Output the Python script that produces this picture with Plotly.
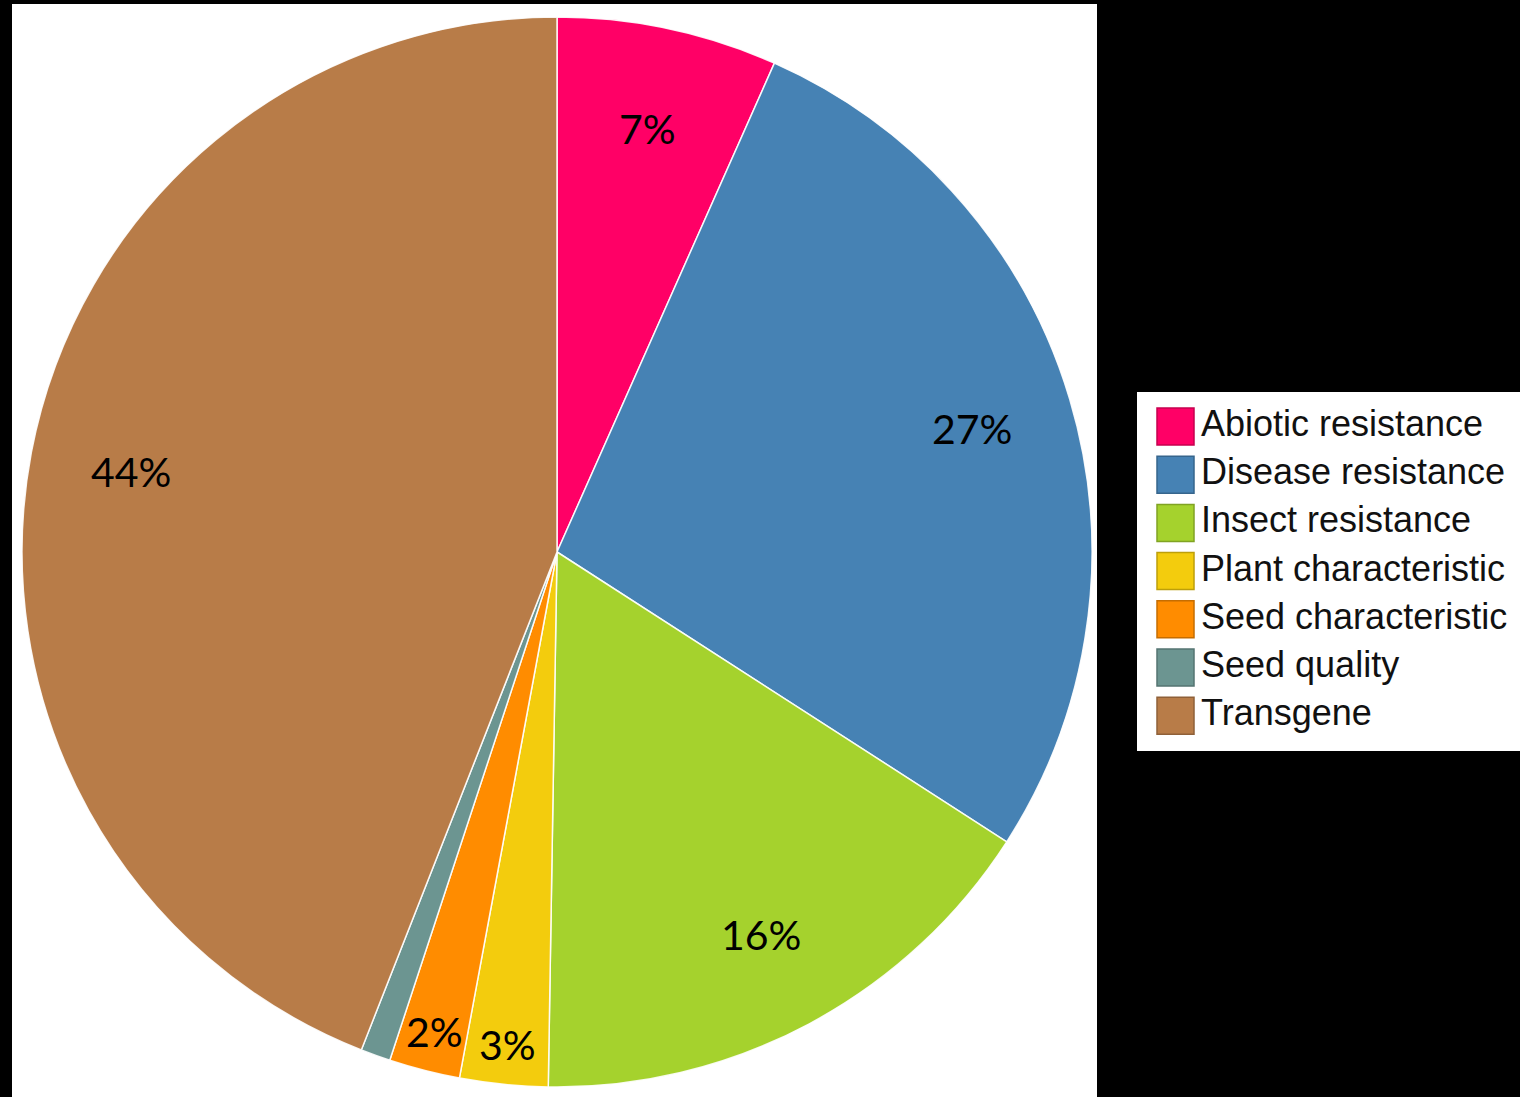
import numpy as np
import plotly.graph_objects as go

# ---- data ----
categories = ["Abiotic resistance", "Disease resistance", "Insect resistance",
              "Plant characteristic", "Seed characteristic", "Seed quality", "Transgene"]
values = [6.66, 27.45, 16.15, 2.66, 2.14, 0.9, 44.04]
colors = ["#FF0066", "#4682B4", "#A5D22D", "#F3CC0D", "#FF8C00", "#6C9591", "#B87C48"]
label_threshold = 1.5  # percent below which no slice text is shown

# ---- layout constants (pixels) ----
W, H = 1520, 1097
CX, CY, R = 557, 552, 535


def px(p):
    return p / W


def py(p):
    return 1 - p / H


fig = go.Figure()
fig.add_trace(go.Pie(
    labels=categories,
    values=values,
    sort=False,
    direction="clockwise",
    rotation=0,
    marker=dict(colors=colors, line=dict(color="rgba(255,255,255,0.9)", width=1.5)),
    textinfo="none",
    hoverinfo="label+percent",
    domain=dict(x=[px(CX - R), px(CX + R)], y=[py(CY + R), py(CY - R)]),
    showlegend=False,
))

shapes = []
annotations = []

# white chart area
shapes.append(dict(type="rect", xref="paper", yref="paper",
                   x0=px(12), x1=px(1097), y0=py(1097), y1=py(4),
                   fillcolor="white", line=dict(width=0), layer="below"))

# slice labels computed from the data
vals = np.array(values, dtype=float)
pct = vals / vals.sum() * 100
cum = np.cumsum(vals) / vals.sum()
start = np.concatenate([[0], cum[:-1]])
mid_deg = (start + cum) / 2 * 360
for p, a in zip(pct, mid_deg):
    if p < label_threshold:
        continue
    frac = 0.81 if p >= 5 else 0.925
    rad = np.deg2rad(a)
    x = CX + frac * R * np.sin(rad)
    y = CY - frac * R * np.cos(rad)
    annotations.append(dict(x=px(x), y=py(y), xref="paper", yref="paper",
                            text=f"{round(p)}%", showarrow=False,
                            xanchor="center", yanchor="middle",
                            font=dict(family="Lato", size=41, color="black")))

# custom legend
LX0, LX1, LY0, LY1 = 1137, 1520, 392, 751
shapes.append(dict(type="rect", xref="paper", yref="paper",
                   x0=px(LX0), x1=px(LX1), y0=py(LY1), y1=py(LY0),
                   fillcolor="white", line=dict(width=0)))
SW_X, SW, ROW0, STEP, TX = 1157, 37, 426.5, 48.2, 1199


def darker(hexc, f=0.78):
    h = hexc.lstrip("#")
    r, g, b = (int(h[i:i + 2], 16) for i in (0, 2, 4))
    return f"rgb({int(r * f)},{int(g * f)},{int(b * f)})"


for i, (cat, col) in enumerate(zip(categories, colors)):
    cy = ROW0 + i * STEP
    shapes.append(dict(type="rect", xref="paper", yref="paper",
                       x0=px(SW_X), x1=px(SW_X + SW),
                       y0=py(cy + SW / 2), y1=py(cy - SW / 2),
                       fillcolor=col, line=dict(color=darker(col), width=1.5)))
    annotations.append(dict(x=px(TX), y=py(cy - 3), xref="paper", yref="paper",
                            text=cat, showarrow=False, xanchor="left", yanchor="middle",
                            font=dict(family="Liberation Sans, Arial", size=36, color="#111111")))

fig.update_layout(
    width=W, height=H,
    margin=dict(l=0, r=0, t=0, b=0),
    paper_bgcolor="black",
    plot_bgcolor="black",
    shapes=shapes,
    annotations=annotations,
)

fig.write_html("out.html", config={"displayModeBar": False},
               post_script="document.body.style.margin='0';document.body.style.overflow='hidden';")
